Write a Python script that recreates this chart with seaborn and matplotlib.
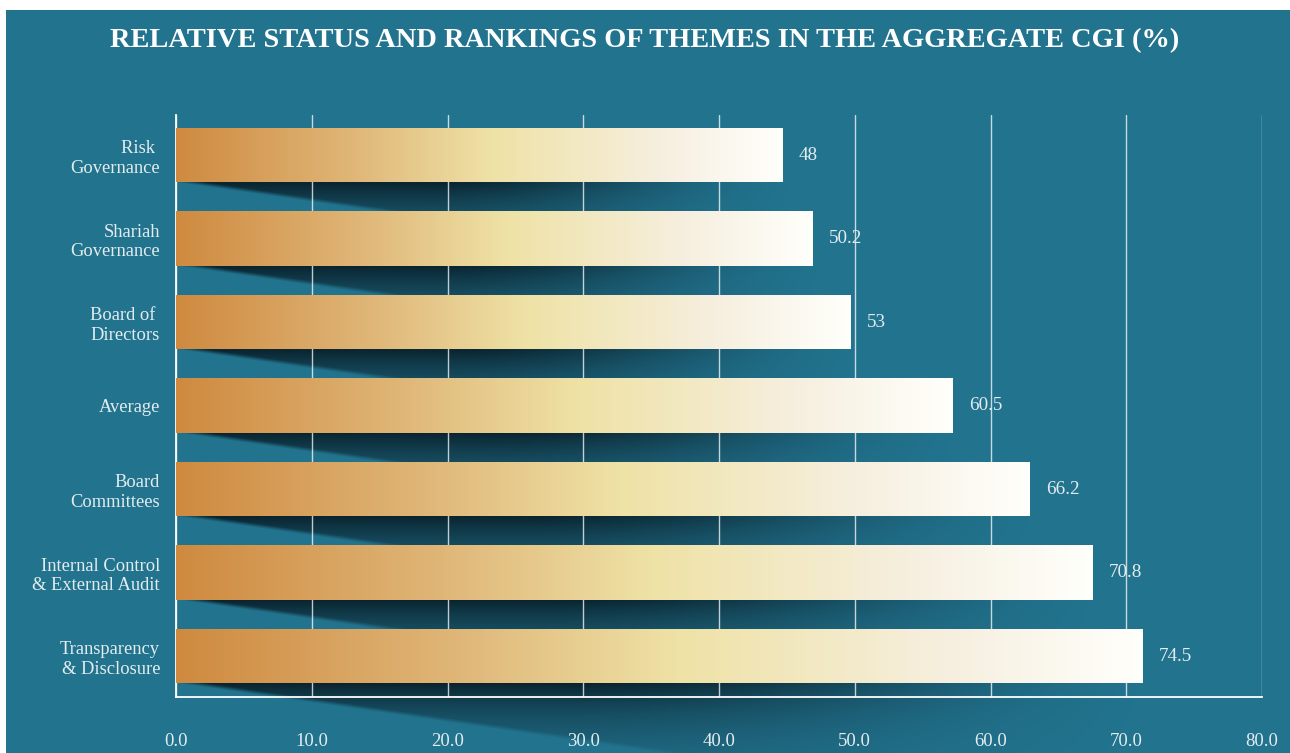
import matplotlib.pyplot as plt
import matplotlib.patches as mpatches
from matplotlib.colors import LinearSegmentedColormap
import numpy as np
import pandas as pd
import seaborn as sns

# ---- data ----
themes = [
    "Risk \nGovernance",
    "Shariah\nGovernance",
    "Board of \nDirectors",
    "Average",
    "Board\nCommittees",
    "Internal Control\n& External Audit",
    "Transparency\n& Disclosure",
]
value_labels = ["48", "50.2", "53", "60.5", "66.2", "70.8", "74.5"]
# bar ends as drawn in the source chart
bar_lengths = [44.7, 46.9, 49.7, 57.2, 62.9, 67.5, 71.2]
x_ticks = [0, 10, 20, 30, 40, 50, 60, 70, 80]
title = "RELATIVE STATUS AND RANKINGS OF THEMES IN THE AGGREGATE CGI (%)"

TEAL = "#22738e"
LABEL = "#e3ecef"

sns.set_theme(style="white")
plt.rcParams["font.family"] = ["Liberation Serif", "DejaVu Serif"]

df = pd.DataFrame({"theme": themes, "score": bar_lengths})

fig = plt.figure(figsize=(12.9, 7.53), dpi=100, facecolor="white")
# teal panel, leaving a thin white strip at top and left like the source
fig.patches.append(mpatches.Rectangle((6 / 1290, 0), 1, 1 - 10 / 753,
                                      transform=fig.transFigure,
                                      facecolor=TEAL, edgecolor="none", zorder=-5))
ax = fig.add_axes([176 / 1290, 1 - 697 / 753, 1086 / 1290, 582 / 753])
ax.set_facecolor("none")

sns.barplot(data=df, x="score", y="theme", orient="h", width=0.65,
            color="white", saturation=1, linewidth=0, ax=ax, zorder=3)

# gradient fill on each bar
bar_cmap = LinearSegmentedColormap.from_list(
    "gold", [(0.0, "#cf8a40"), (0.3, "#e0b87a"), (0.52, "#efe2a6"),
             (0.8, "#f6efdf"), (1.0, "#fffffb")])
grad = np.linspace(0, 1, 256).reshape(1, -1)
bars = list(ax.patches)
for p in bars:
    p.set_edgecolor("none")
    x0, y0 = p.get_x(), p.get_y()
    w, h = p.get_width(), p.get_height()
    im = ax.imshow(grad, extent=(x0, x0 + w, y0 + h, y0), aspect="auto",
                   cmap=bar_cmap, zorder=3.1, interpolation="bicubic")
    im.set_clip_path(p)

# perspective drop shadows under the bars
xs = np.linspace(0, 80, 1400)
ys = np.linspace(-0.5, 7.4, 900)
X, Y = np.meshgrid(xs, ys)
alpha = np.zeros_like(X)
for p in bars:
    L = p.get_width()
    yb = p.get_y() + p.get_height()
    d = Y - yb
    dmax = 0.0235 * X
    inside = np.clip((dmax - d) / 0.05, 0, 1) * np.clip(d / 0.01 + 1, 0, 1)
    t = np.clip((L + 1.5 - X) / (0.6 * L + 1.5), 0, 1)
    horiz = t * t * (3 - 2 * t)
    vert = np.exp(-d / 0.5)
    alpha = np.maximum(alpha, 0.85 * inside * horiz * vert)
shadow = np.zeros(X.shape + (4,))
shadow[..., 0] = 0.02
shadow[..., 1] = 0.08
shadow[..., 2] = 0.11
shadow[..., 3] = alpha
sh = ax.imshow(shadow, extent=(0, 80, 7.4, -0.5), aspect="auto",
               zorder=0.4, interpolation="bilinear")
sh.set_clip_on(False)

# value labels
for p, lbl in zip(bars, value_labels):
    ax.text(p.get_width() + 1.2, p.get_y() + p.get_height() / 2, lbl,
            ha="left", va="center", color=LABEL, fontsize=13.8)

ax.set_xlim(0, 80)
ax.set_ylim(6.49, -0.48)
ax.set_xticks(x_ticks)
ax.set_xticklabels([f"{t:.1f}" for t in x_ticks])
ax.set_xlabel("")
ax.set_ylabel("")
ax.tick_params(axis="x", length=0, pad=26, labelsize=13.5, colors=LABEL)
ax.tick_params(axis="y", length=0, pad=11.5, labelsize=13.3, colors=LABEL)
for t in ax.get_yticklabels():
    t.set_linespacing(1.2)

ax.set_axisbelow(True)
ax.grid(axis="x", color="white", alpha=0.75, linewidth=1)
ax.grid(axis="y", visible=False)
for s in ["top", "right"]:
    ax.spines[s].set_visible(False)
for s in ["left", "bottom"]:
    ax.spines[s].set_visible(True)
    ax.spines[s].set_color("white")
    ax.spines[s].set_linewidth(1.3)

fig.text(0.5, 1 - 41 / 753, title, ha="center", va="center",
         fontsize=20.4, fontweight="bold", color="white")

fig.savefig("out.png", dpi=100, facecolor=fig.get_facecolor())
